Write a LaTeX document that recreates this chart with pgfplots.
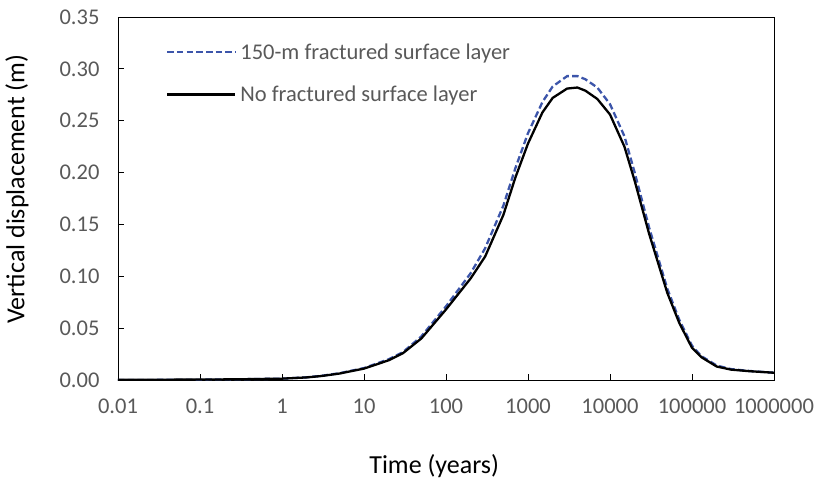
\documentclass[border=0pt]{standalone}
\usepackage{pgfplots}
\pgfplotsset{compat=1.18}
\usepackage{fontspec}
\setmainfont{Carlito}
\definecolor{tickgray}{RGB}{89,89,89}
\definecolor{dblue}{RGB}{60,85,170}
\pgfplotstableread{
t       y
0.01    0.0002
0.03    0.0003
0.1     0.0004
0.3     0.0007
1       0.0013
2       0.0025
3       0.0038
5       0.0062
10      0.0110
20      0.0190
30      0.0260
50      0.0400
100     0.0680
200     0.0980
300     0.1190
500     0.1590
700     0.1950
1000    0.2280
1500    0.2580
2000    0.2720
3000    0.2810
4000    0.2820
5000    0.2790
7000    0.2710
10000   0.2560
15000   0.2250
20000   0.1920
30000   0.1410
50000   0.0840
70000   0.0550
100000  0.0310
130000  0.0220
200000  0.0130
300000  0.0100
500000  0.0085
1000000 0.0070
}\noLayer
\pgfplotstableread{
t       y
0.01    0.0000
0.03    0.0001
0.1     0.0003
0.3     0.0007
1       0.0013
2       0.0026
3       0.0040
5       0.0065
10      0.0115
20      0.0200
30      0.0270
50      0.0420
100     0.0710
200     0.1030
300     0.1270
500     0.1680
700     0.2040
1000    0.2380
1500    0.2680
2000    0.2830
3000    0.2930
4000    0.2930
5000    0.2900
7000    0.2820
10000   0.2660
15000   0.2350
20000   0.2000
30000   0.1470
50000   0.0880
70000   0.0580
100000  0.0330
130000  0.0230
200000  0.0140
300000  0.0105
500000  0.0087
1000000 0.0070
}\fracLayer
\begin{document}
\begin{tikzpicture}
\begin{axis}[
  name=ax,
  scale only axis,
  width=656bp, height=363bp,
  xmode=log,
  xmin=0.01, xmax=1000000,
  ymin=0, ymax=0.35,
  xtick={0.01,0.1,1,10,100,1000,10000,100000,1000000},
  xticklabels={0.01,0.1,1,10,100,1000,10000,100000,1000000},
  xminorticks=false,
  ytick={0,0.05,0.1,0.15,0.2,0.25,0.3,0.35},
  /pgf/number format/fixed,
  /pgf/number format/fixed zerofill,
  /pgf/number format/precision=2,
  /pgf/number format/assume math mode=true,
  xtick pos=bottom, ytick pos=left,
  tick align=inside,
  major tick length=6bp,
  tick style={black, line width=0.8pt},
  axis line style={black, line width=0.9pt},
  tick label style={font=\fontsize{22.5bp}{26bp}\selectfont, text=tickgray},
  yticklabel style={anchor=east, xshift=-15bp},
  xticklabel style={anchor=north, yshift=-15bp},
  xlabel={Time (years)},
  ylabel={Vertical displacement (m)},
  label style={font=\fontsize{26bp}{30bp}\selectfont, text=black},
  xlabel style={at={(axis description cs:0.482,-0.237)}, anchor=center},
  ylabel style={at={(axis description cs:-0.154,0.526)}, anchor=center},
  legend style={draw=none, fill=none, at={(axis description cs:0.073,0.938)}, anchor=north west,
     font=\fontsize{22.5bp}{26bp}\selectfont, text=tickgray, row sep=17bp, inner sep=0pt,
     nodes={inner sep=4bp}},
  legend cell align=left,
  legend image code/.code={\draw[#1] (0bp,0bp) -- (68bp,0bp);},
]
\addplot[dblue, line width=2.3bp, dash pattern=on 6.5bp off 3.2bp] table[x=t,y=y] {\fracLayer};
\addlegendentry{150-m fractured surface layer}
\addplot[black, line width=2.3bp] table[x=t,y=y] {\noLayer};
\addlegendentry{No fractured surface layer}
\end{axis}
\path ([xshift=-118bp,yshift=-105bp]ax.south west) rectangle ([xshift=44bp,yshift=17bp]ax.north east);
\end{tikzpicture}
\end{document}
